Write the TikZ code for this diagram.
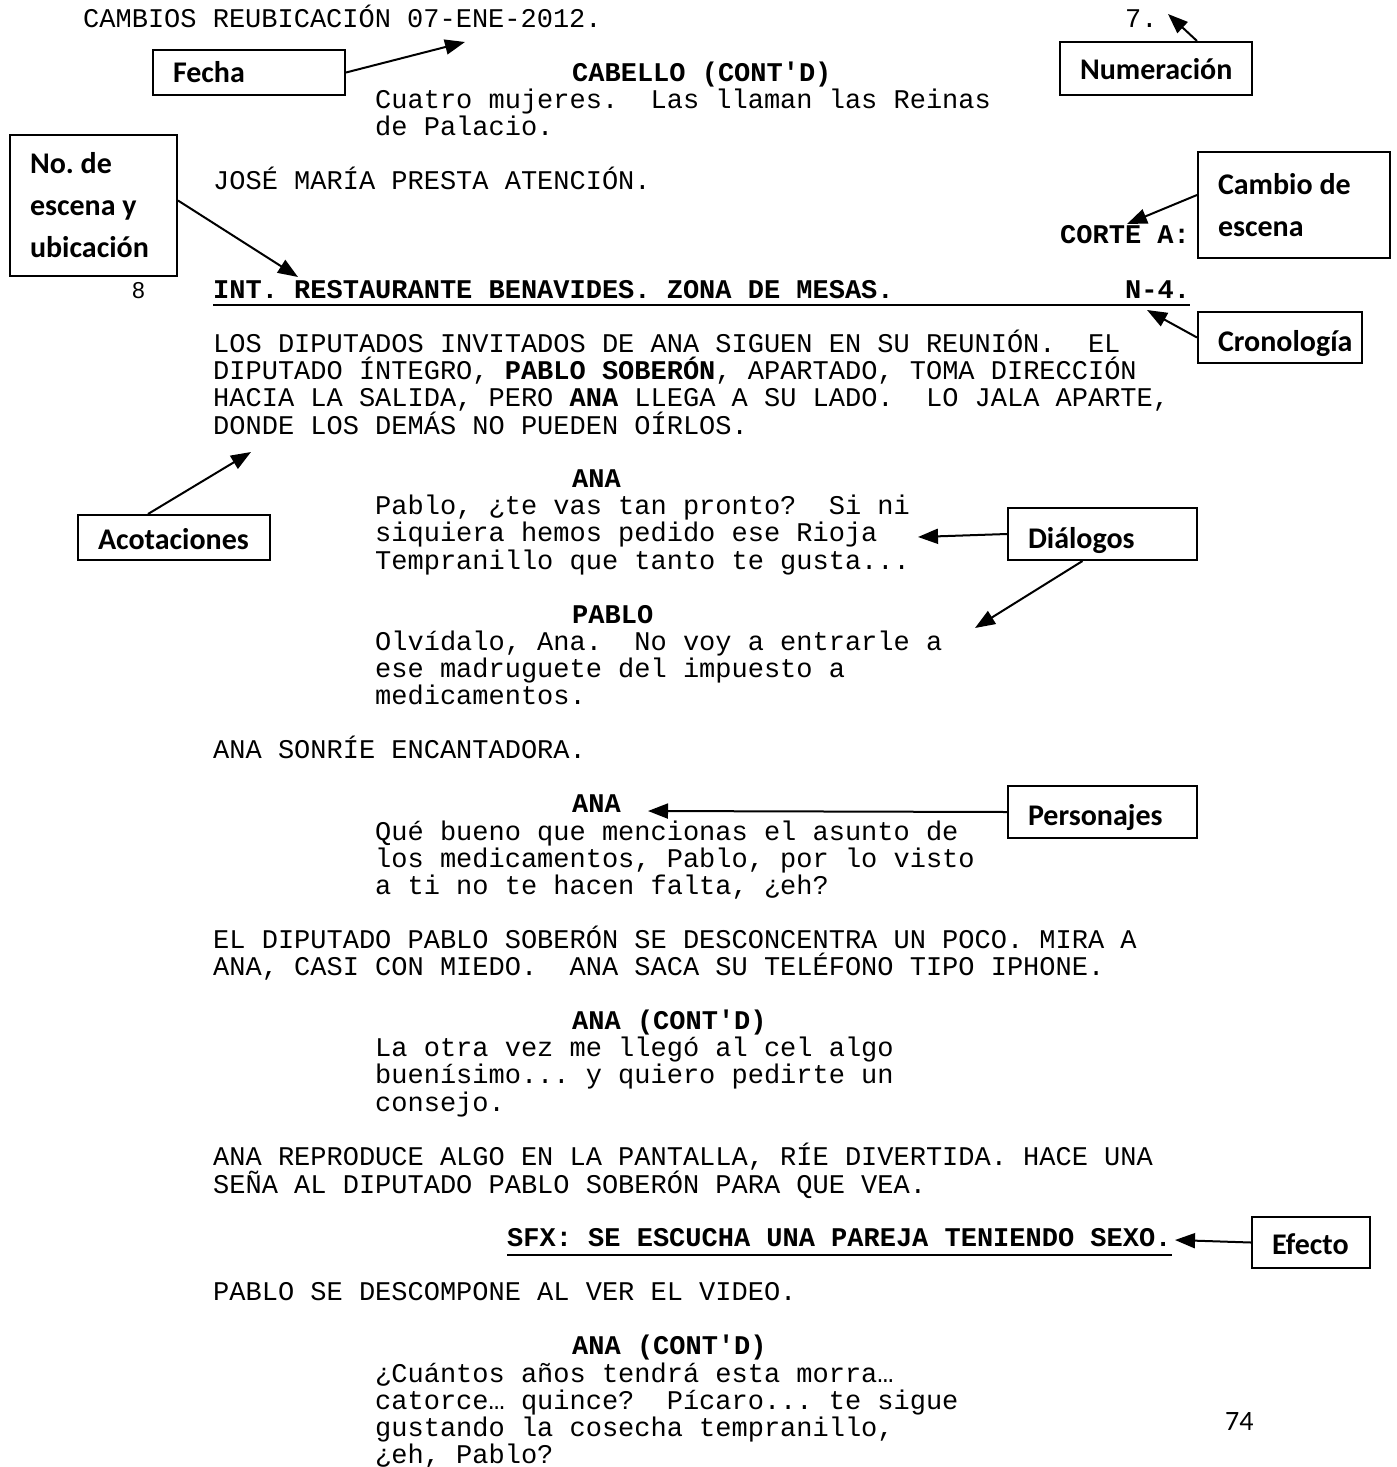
\documentclass[tikz,border=0pt]{standalone}
\usepackage{fontspec}
\setmonofont{Liberation Mono}
\setsansfont{Carlito}
\newfontfamily\digitfont{Liberation Sans}
\usetikzlibrary{arrows.meta, positioning}

% baseline of script row #1
\newcommand{\ry}[1]{27+27.1*#1}
\newcommand{\typewriter}{\ttfamily\fontsize{27}{27.1}\selectfont}

\begin{document}
\frenchspacing
\begin{tikzpicture}
[x=1pt, y=-1pt,
->/.style={line width=2pt, arrows={-Triangle[length=20pt, width=15pt]}},
   page/.style={anchor=base west, inner sep=0pt, text width=1150pt, align=flush left,
     font=\typewriter},
   cue/.style={page, font=\typewriter\bfseries},
   tag/.style={shape=rectangle, draw, line width=2pt, inner xsep=20pt, inner ysep=0pt,
     align=flush left, font=\sffamily\bfseries\fontsize{30}{42}\selectfont}]
\useasboundingbox (0,0) rectangle (1397,1467);
% the script page
\node[page] (head) at (83,{\ry{0}}) {CAMBIOS REUBICACIÓN 07-ENE-2012.};
\node[page] (folio) at (1125,{\ry{0}}) {7.};
\node[cue] (cueA) at (572,{\ry{2}}) {CABELLO (CONT\textquotesingle D)};
\node[page] (dlgA) at (375,{\ry{3}}) {Cuatro mujeres.\ \ Las llaman las Reinas\\de Palacio.};
\node[page] (actA) at (213,{\ry{6}}) {JOSÉ MARÍA PRESTA ATENCIÓN.};
\node[cue] (cut) at (1060,{\ry{8}}) {CORTE A:};
\node[anchor=base west, inner sep=0pt, font=\digitfont\fontsize{23}{23}\selectfont]
  (scnum) at (132,{\ry{10}}) {8};
\node[cue] (slug) at (213,{\ry{10}}) {INT. RESTAURANTE BENAVIDES. ZONA DE MESAS.};
\node[cue] (time) at (1125,{\ry{10}}) {N-4.};
\draw[line width=2pt] ([yshift=-7pt]slug.base west) -- ([yshift=-7pt]slug.base west -| 1190,0);
\node[page] (actB) at (213,{\ry{12}}) {LOS DIPUTADOS INVITADOS DE ANA SIGUEN EN SU REUNIÓN.\ \ EL\\
  DIPUTADO ÍNTEGRO, \textbf{PABLO SOBERÓN}, APARTADO, TOMA DIRECCIÓN\\
  HACIA LA SALIDA, PERO \textbf{ANA} LLEGA A SU LADO.\ \ LO JALA APARTE,\\
  DONDE LOS DEMÁS NO PUEDEN OÍRLOS.};
\node[cue] (cueB) at (572,{\ry{17}}) {ANA};
\node[page] (dlgB) at (375,{\ry{18}}) {Pablo, ¿te vas tan pronto?\ \ Si ni\\
  siquiera hemos pedido ese Rioja\\Tempranillo que tanto te gusta...};
\node[cue] (cueC) at (572,{\ry{22}}) {PABLO};
\node[page] (dlgC) at (375,{\ry{23}}) {Olvídalo, Ana.\ \ No voy a entrarle a\\
  ese madruguete del impuesto a\\medicamentos.};
\node[page] (actC) at (213,{\ry{27}}) {ANA SONRÍE ENCANTADORA.};
\node[cue] (cueD) at (572,{\ry{29}}) {ANA};
\node[page] (dlgD) at (375,{\ry{30}}) {Qué bueno que mencionas el asunto de\\
  los medicamentos, Pablo, por lo visto\\a ti no te hacen falta, ¿eh?};
\node[page] (actD) at (213,{\ry{34}}) {EL DIPUTADO PABLO SOBERÓN SE DESCONCENTRA UN POCO. MIRA A\\
  ANA, CASI CON MIEDO.\ \ ANA SACA SU TELÉFONO TIPO IPHONE.};
\node[cue] (cueE) at (572,{\ry{37}}) {ANA (CONT\textquotesingle D)};
\node[page] (dlgE) at (375,{\ry{38}}) {La otra vez me llegó al cel algo\\
  buenísimo... y quiero pedirte un\\consejo.};
\node[page] (actE) at (213,{\ry{42}}) {ANA REPRODUCE ALGO EN LA PANTALLA, RÍE DIVERTIDA. HACE UNA\\
  SEÑA AL DIPUTADO PABLO SOBERÓN PARA QUE VEA.};
\node[cue] (sfx) at (507,{\ry{45}}) {SFX: SE ESCUCHA UNA PAREJA TENIENDO SEXO.};
\draw[line width=2pt] ([yshift=-8pt]sfx.base west) -- ([yshift=-8pt]sfx.base west -| 1172,0);
\node[page] (actF) at (213,{\ry{47}}) {PABLO SE DESCOMPONE AL VER EL VIDEO.};
\node[cue] (cueF) at (572,{\ry{49}}) {ANA (CONT\textquotesingle D)};
\node[page] (dlgF) at (375,{\ry{50}}) {¿Cuántos años tendrá esta morra…\\
  catorce… quince?\ \ Pícaro... te sigue\\gustando la cosecha tempranillo,\\¿eh, Pablo?};
\node[anchor=base west, inner sep=0pt, font=\sffamily\fontsize{28}{28}\selectfont]
  (pagenum) at (1225,1430) {74};
% the labels
\node[tag, text width=152pt, minimum height=45pt, text height=19pt, text depth=0pt]
  (fecha) at (249,72.5) {Fecha};
\node[tag, text width=152pt, minimum height=53pt, text height=21pt, text depth=0pt]
  (numer) at (1156,68.5) {Numeración};
\node[tag, text width=127pt, minimum height=141pt] (scene) at (93.5,205.5) {No. de\\escena y\\ubicación};
\node[tag, text width=152pt, minimum height=106pt] (cambio) at (1294,205) {Cambio de\\escena};
\node[tag, text width=124pt, minimum height=51pt, text height=27pt, text depth=0pt]
  (crono) at (1280,337.5) {Cronología};
\node[tag, text width=152pt, minimum height=45pt, text height=23pt, text depth=0pt]
  (acot) at (174,537.5) {Acotaciones};
\node[tag, text width=149pt, minimum height=52pt, text height=28pt, text depth=0pt]
  (dialog) at (1102.5,534) {Diálogos};
\node[tag, text width=149pt, minimum height=52pt, text height=26pt, text depth=0pt]
  (perso) at (1102.5,812) {Personajes};
\node[tag, text width=78pt, minimum height=51pt, text height=23pt, text depth=0pt]
  (efecto) at (1311,1242.5) {Efecto};
% arrow tips
\coordinate (dateTip) at (465,42);
\coordinate (numTip) at (1168,14);
\coordinate (slugTip) at (298,277);
\coordinate (cutTip) at (1127,224);
\coordinate (timeTip) at (1147,310);
\coordinate (actTip) at (251,452);
\coordinate (dlgTip) at (918,537);
\coordinate (dlgTip2) at (975,628);
\coordinate (cueTip) at (648,811);
\coordinate (sfxTip) at (1175,1240);
\draw [->] (fecha.east) -- (dateTip);
\draw [->] ([xshift=41pt]numer.north) -- (numTip);
\draw [->] ([yshift=5pt]scene.east) -- (slugTip);
\draw [->] ([yshift=10pt]cambio.west) -- (cutTip);
\draw [->] (crono.west) -- (timeTip);
\draw [->] ([xshift=-26pt]acot.north) -- (actTip);
\draw [->] (dialog.west) -- (dlgTip);
\draw [->] ([xshift=-20pt]dialog.south) -- (dlgTip2);
\draw [->] (perso.west) -- (cueTip);
\draw [->] (efecto.west) -- (sfxTip);
\end{tikzpicture}
\end{document}
